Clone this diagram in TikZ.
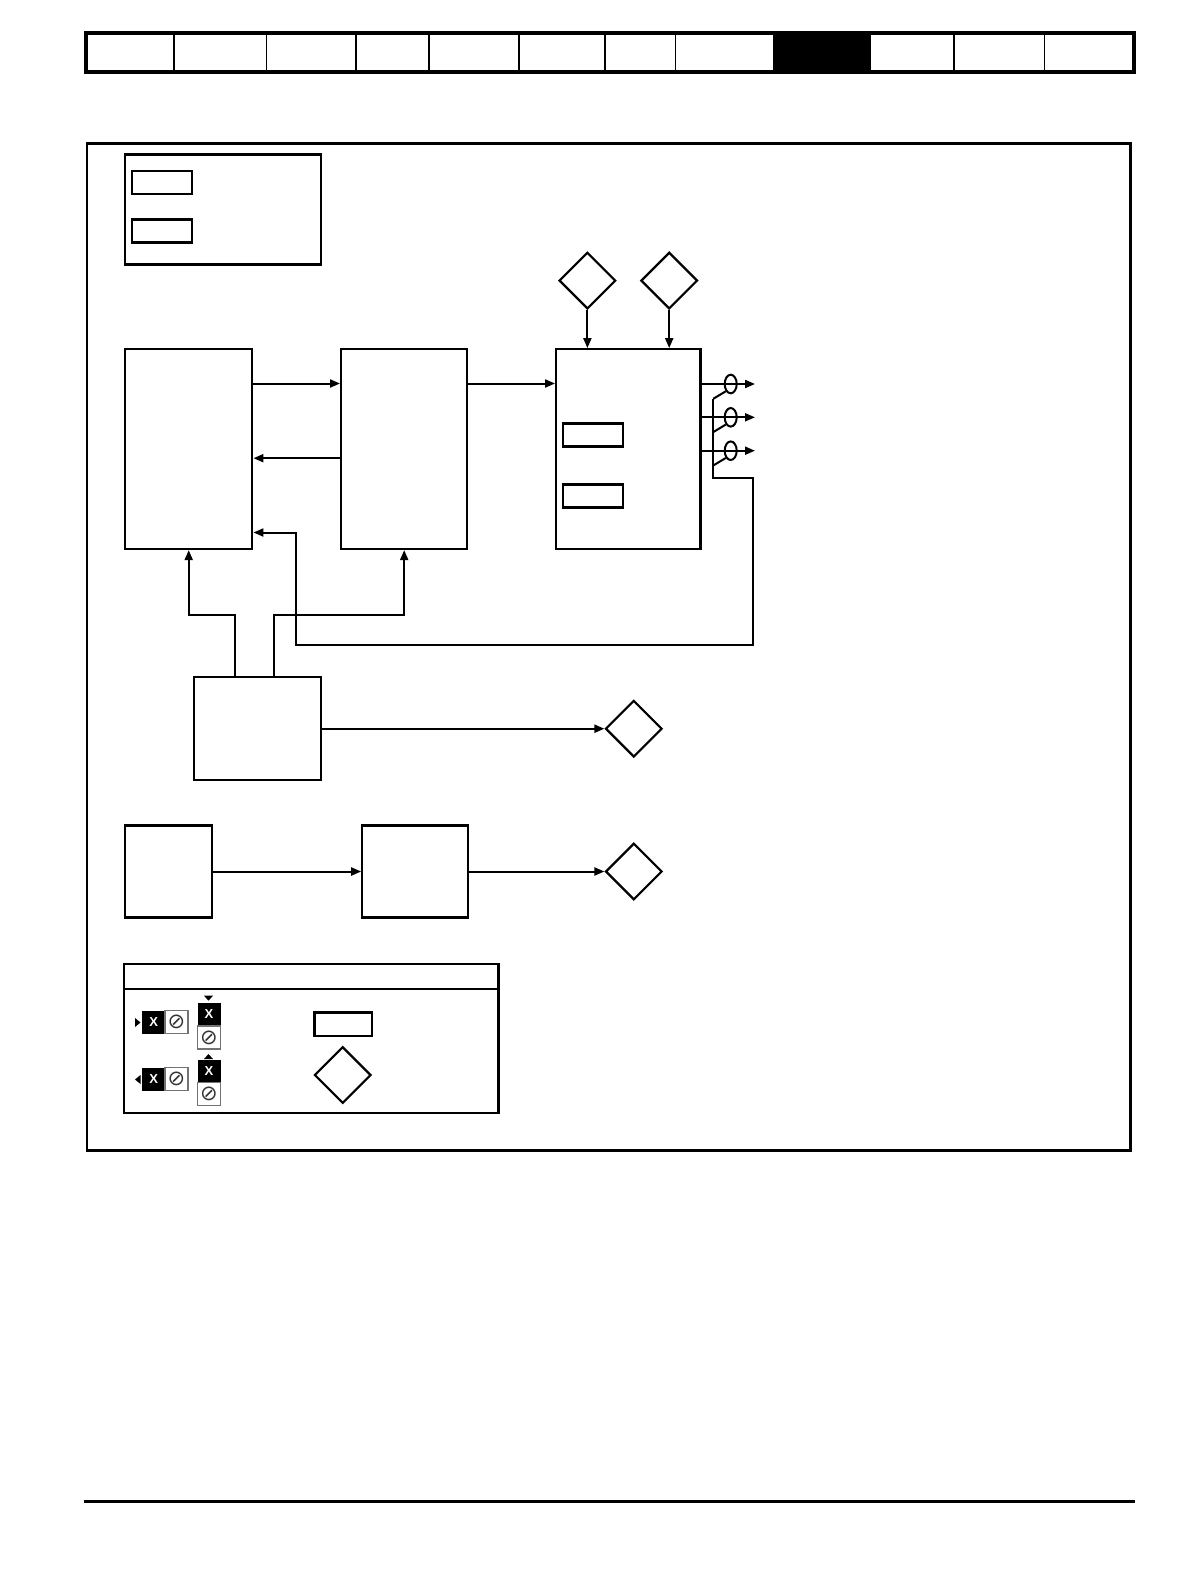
\documentclass[tikz,border=0pt]{standalone}
\usepackage{fontspec}
\usetikzlibrary{arrows.meta,shapes.geometric,positioning}
\newfontfamily\keyfont{Liberation Sans}
\newfontfamily\symfont{DejaVu Sans}

\begin{document}
\begin{tikzpicture}[x=1pt, y=-1pt,
  blk/.style={rectangle, draw, line width=2.2pt, inner sep=0pt},
  tag/.style={rectangle, draw, line width=2.4pt, inner sep=0pt,
              minimum width=59.5pt, minimum height=23pt},
  dia/.style={diamond, draw, line width=2.2pt, inner sep=0pt,
              minimum width=56.6pt, minimum height=56.6pt},
  sw/.style={ellipse, draw, line width=2pt, inner sep=0pt,
             minimum width=12pt, minimum height=18.6pt},
  xbox/.style={rectangle, fill=black, text=white, inner sep=0pt,
               minimum width=23pt, minimum height=23pt,
               font=\keyfont\bfseries\fontsize{13}{13}\selectfont},
  obox/.style={rectangle, draw=black!55, line width=1.2pt, inner sep=0pt,
               minimum width=23pt, minimum height=23pt, text=black!80,
               font=\symfont\fontsize{21}{21}\selectfont},
  arrow/.style={-{Triangle[length=10pt, width=8pt]}, line width=2pt},
  wire/.style={line width=2pt}
]
\useasboundingbox (0,0) rectangle (1190,1582);

% header strip
\draw[line width=4pt] (85.8,33.3) rectangle (1133.5,71.7);
\fill (773.2,33.3) rectangle (870.5,71.7);
\foreach \xx in {174,266.3,356.2,429,519.2,605,675.3,954,1044.5}
  \draw[line width=1.5pt] (\xx,33.3) -- (\xx,71.7);

% frame
\draw[line width=2.8pt] (87,143.5) rectangle (1130.2,1150.4);

% key at top left
\node[blk, minimum width=196pt, minimum height=110pt] (keytop) at (223,209.4) {};
\node[tag] (k1) at (162,182.2) {};
\node[tag] (k2) at (162,231.1) {};

% main blocks
\node[blk, minimum width=127.3pt, minimum height=199.8pt] (A) at (188.7,449.1) {};
\node[blk, minimum width=126.2pt, minimum height=199.8pt] (B) at (404.2,449.1) {};
\node[blk, minimum width=144.4pt, minimum height=199.8pt] (C) at (628.3,449.1) {};
\node[tag] (c1) at (593,435) {};
\node[tag] (c2) at (593,496.1) {};

\node[dia] (d1) at (587.4,280.6) {};
\node[dia] (d2) at (669.2,280.6) {};
\draw[arrow] (d1.south) -- (d1.south |- C.north);
\draw[arrow] (d2.south) -- (d2.south |- C.north);

\draw[arrow] (A.east |- 0,383.5) -- (B.west |- 0,383.5);
\draw[arrow] (B.west |- 0,458.2) -- (A.east |- 0,458.2);
\draw[arrow] (B.east |- 0,383.5) -- (C.west |- 0,383.5);

% outputs of C
\node[sw] (s1) at (730.7,384) {};
\node[sw] (s2) at (730.7,417.3) {};
\node[sw] (s3) at (730.7,450.7) {};
\coordinate (o1) at (755,384);
\coordinate (o2) at (755,417.3);
\coordinate (o3) at (755,450.7);
\foreach \i in {1,2,3} {
  \draw[arrow] (C.east |- s\i) -- (o\i);
  \draw[wire] (s\i.south west) -- ++(-12.5,7.5) coordinate (g\i);
}
\draw[arrow] (g1) |- (752.7,478.3) |- (295.7,645) |- (A.east |- 0,532.5);

% lower blocks
\node[blk, minimum width=127.2pt, minimum height=103pt] (D) at (257.4,728.7) {};
\draw[arrow] (D.north -| 235.2,0) |- (A.south |- 0,614.7) -- (A.south);
\draw[arrow] (D.north -| 273.5,0) |- (B.south |- 0,614.7) -- (B.south);
\node[dia] (d3) at (633.8,728.7) {};
\draw[arrow] (D.east) -- (d3.west);

\node[blk, minimum width=87pt, minimum height=92pt] (E) at (168.5,871.5) {};
\node[blk, minimum width=106pt, minimum height=92pt] (F) at (415.3,871.5) {};
\node[dia] (d4) at (633.8,871.5) {};
\draw[arrow] (E.east) -- (F.west);
\draw[arrow] (F.east) -- (d4.west);

% key at bottom
\node[blk, minimum width=374.5pt, minimum height=149.4pt] (keybot) at (311.3,1038.6) {};
\draw[line width=2.2pt] (keybot.west |- 0,989.1) -- (keybot.east |- 0,989.1);

\fill (135,1018) -- (140.5,1022.5) -- (135,1027) -- cycle;
\node[xbox] (x1) at (153.7,1022) {X};
\node[obox] (z1) at (176.4,1022) {⊘};
\fill (140.5,1075) -- (135,1079.5) -- (140.5,1084) -- cycle;
\node[xbox] (x2) at (153.7,1079) {X};
\node[obox] (z2) at (176.4,1079) {⊘};

\fill (204,995.7) -- (213,995.7) -- (208.5,1000.7) -- cycle;
\node[xbox] (x3) at (209,1014.4) {X};
\node[obox] (z3) at (209,1037.4) {⊘};
\fill (204,1059) -- (213,1059) -- (208.5,1054) -- cycle;
\node[xbox] (x4) at (209,1071) {X};
\node[obox] (z4) at (209,1094.3) {⊘};

\node[tag, minimum width=57.4pt, minimum height=23.7pt] (k3) at (343,1024.2) {};
\node[dia] (d5) at (342.7,1075) {};

% footer rule
\draw[line width=3pt] (83.8,1501.8) -- (1134.5,1501.8);
\end{tikzpicture}
\end{document}
